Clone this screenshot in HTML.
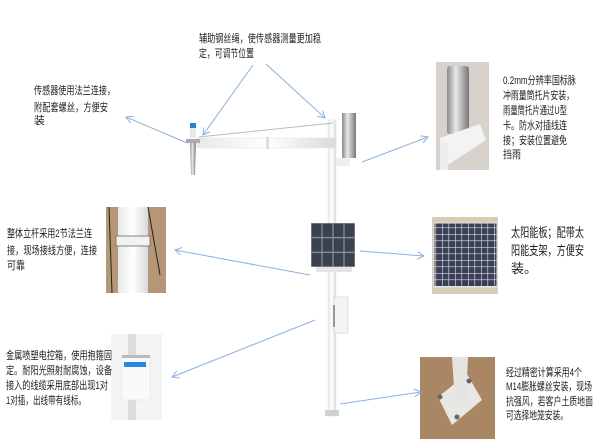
<!DOCTYPE html>
<html><head><meta charset="utf-8"><style>
html,body{margin:0;padding:0;background:#fff;width:600px;height:447px;overflow:hidden}
svg{display:block}
text{font-family:"Liberation Sans","Noto Sans CJK SC",sans-serif;fill:#1e1e1e;font-size:11px}
</style></head><body>
<svg width="600" height="447" viewBox="0 0 600 447" xmlns="http://www.w3.org/2000/svg">
<defs>
<marker id="a" markerWidth="8" markerHeight="8" refX="7" refY="4" orient="auto" markerUnits="userSpaceOnUse">
<path d="M0,0 L7,4 L0,8" fill="none" stroke="#8db2dc" stroke-width="1"/></marker>
<linearGradient id="pole" x1="0" x2="1"><stop offset="0" stop-color="#e6e8ea"/><stop offset=".5" stop-color="#fff"/><stop offset="1" stop-color="#d8dadc"/></linearGradient>
<linearGradient id="steel" x1="0" x2="1"><stop offset="0" stop-color="#8a8a8a"/><stop offset=".4" stop-color="#e8e8e8"/><stop offset="1" stop-color="#777"/></linearGradient>
<pattern id="cells" x="311" y="223" width="11" height="14.67" patternUnits="userSpaceOnUse"><rect width="11" height="14.67" fill="#8d949e"/><rect x=".6" y=".6" width="9.8" height="13.4" fill="#3a414c"/></pattern>
<pattern id="cells2" width="6.5" height="6.5" patternUnits="userSpaceOnUse"><rect width="6.5" height="6.5" fill="#dfe3ea"/><rect x=".6" y=".6" width="5.9" height="5.9" fill="#3a3f55"/></pattern>
</defs>

<rect x="328" y="120" width="8" height="296" fill="url(#pole)" stroke="#e0e2e4" stroke-width=".5"/>
<rect x="325" y="410" width="14" height="6" fill="#cfd2d4"/>
<rect x="197" y="138" width="139" height="10" fill="url(#pole)" stroke="#e2e4e6" stroke-width=".5"/>
<rect x="266" y="137" width="3" height="12" fill="#ddd"/>
<line x1="199" y1="137" x2="333" y2="123" stroke="#bbb" stroke-width="1"/>
<rect x="190" y="123" width="6" height="5" fill="#2a7fd0"/>
<rect x="190" y="128" width="6" height="10" fill="#e8e8e8"/>
<rect x="186" y="139" width="14" height="4" fill="#aaa"/>
<polygon points="190,143 196,143 195,175 191,175" fill="url(#steel)"/>
<rect x="342" y="113" width="14" height="45" fill="url(#steel)"/>
<rect x="336" y="158" width="14" height="8" fill="#eee"/>
<rect x="311" y="223" width="44" height="44" fill="url(#cells)"/>
<rect x="316" y="267" width="36" height="5" fill="#e5e5e5"/>
<rect x="334" y="297" width="14" height="36" fill="#f4f4f4" stroke="#ccc" stroke-width=".6"/>
<rect x="333" y="305" width="2" height="22" fill="#999"/>

<g>
<rect x="436" y="62" width="53" height="108" fill="#d7d2cc"/>
<rect x="447" y="66" width="22" height="68" rx="3" fill="url(#steel)"/>
<polygon points="440,138 480,124 486,140 440,170" fill="#f3f3f3"/>
<rect x="440" y="142" width="8" height="28" fill="#eee"/>
</g>
<g>
<rect x="106" y="207" width="60" height="86" fill="#b59777"/>
<rect x="118" y="207" width="30" height="86" fill="url(#pole)"/>
<rect x="116" y="236" width="34" height="10" fill="#f2f2f2" stroke="#666" stroke-width=".8"/>
<line x1="109" y1="207" x2="112" y2="293" stroke="#222" stroke-width="1"/>
<line x1="148" y1="207" x2="160" y2="275" stroke="#222" stroke-width="1"/>
</g>
<g>
<rect x="432" y="217" width="66" height="77" fill="#d9cbb5"/>
<rect x="434" y="223" width="63" height="64" fill="url(#cells2)" stroke="#e4e6ea" stroke-width="1"/>
</g>
<g>
<rect x="111" y="334" width="51" height="86" fill="#f3f4f6"/>
<rect x="128" y="334" width="8" height="86" fill="#dcdcdc"/>
<rect x="122" y="355" width="28" height="45" fill="#fafafa" stroke="#ddd" stroke-width=".5"/>
<rect x="122" y="355" width="28" height="3" fill="#bbb"/>
<rect x="124" y="362" width="22" height="5" fill="#2a86e0"/>
</g>
<g>
<rect x="420" y="357" width="75" height="82" fill="#a98664"/>
<polygon points="438,397 467,374 482,400 452,425" fill="#e9e7e3"/>
<polygon points="452,357 468,357 466,398 455,402" fill="#e6e4e0"/>
<circle cx="440" cy="397" r="2.5" fill="#666"/><circle cx="469" cy="381" r="2.5" fill="#666"/><circle cx="457" cy="417" r="2.5" fill="#666"/>
</g>

<g stroke="#8db2dc" stroke-width="1" fill="none">
<line x1="253" y1="65" x2="203" y2="135" marker-end="url(#a)"/>
<line x1="266" y1="64" x2="325" y2="118" marker-end="url(#a)"/>
<line x1="187" y1="143" x2="126" y2="117" marker-end="url(#a)"/>
<line x1="362" y1="162" x2="428" y2="137" marker-end="url(#a)"/>
<line x1="310" y1="275" x2="175" y2="250" marker-end="url(#a)"/>
<line x1="360" y1="251" x2="424" y2="256" marker-end="url(#a)"/>
<line x1="315" y1="320" x2="172" y2="377" marker-end="url(#a)"/>
<line x1="340" y1="404" x2="421" y2="392" marker-end="url(#a)"/>
</g>

<text x="199" y="42" textLength="122" lengthAdjust="spacingAndGlyphs">辅助钢丝绳，使传感器测量更加稳</text>
<text x="199" y="57" textLength="55" lengthAdjust="spacingAndGlyphs">定，可调节位置</text>
<text x="34" y="94" textLength="81" lengthAdjust="spacingAndGlyphs">传感器使用法兰连接，</text>
<text x="34" y="111" textLength="74" lengthAdjust="spacingAndGlyphs">附配套螺丝，方便安</text>
<text x="34" y="124">装</text>
<text x="503" y="84" textLength="73" lengthAdjust="spacingAndGlyphs">0.2mm分辨率国标脉</text>
<text x="503" y="99" textLength="71" lengthAdjust="spacingAndGlyphs">冲雨量筒托片安装，</text>
<text x="503" y="114" textLength="64" lengthAdjust="spacingAndGlyphs">雨量筒托片通过U型</text>
<text x="503" y="129" textLength="64" lengthAdjust="spacingAndGlyphs">卡。防水对插线连</text>
<text x="503" y="144" textLength="64" lengthAdjust="spacingAndGlyphs">接；安装位置避免</text>
<text x="503" y="158" textLength="18" lengthAdjust="spacingAndGlyphs">挡雨</text>
<text x="7" y="237" textLength="85" lengthAdjust="spacingAndGlyphs">整体立杆采用2节法兰连</text>
<text x="7" y="254" textLength="90" lengthAdjust="spacingAndGlyphs">接，现场接线方便，连接</text>
<text x="7" y="269" textLength="18" lengthAdjust="spacingAndGlyphs">可靠</text>
<text x="511" y="237" style="font-size:13px" textLength="73" lengthAdjust="spacingAndGlyphs">太阳能板；配带太</text>
<text x="511" y="255" style="font-size:13px" textLength="73" lengthAdjust="spacingAndGlyphs">阳能支架，方便安</text>
<text x="511" y="273" style="font-size:13px">装。</text>
<text x="6" y="359" textLength="106" lengthAdjust="spacingAndGlyphs">金属喷塑电控箱，使用抱箍固</text>
<text x="6" y="374" textLength="106" lengthAdjust="spacingAndGlyphs">定。耐阳光照射耐腐蚀，设备</text>
<text x="6" y="389" textLength="102" lengthAdjust="spacingAndGlyphs">接入的线缆采用底部出现1对</text>
<text x="6" y="404" textLength="80" lengthAdjust="spacingAndGlyphs">1对插，出线带有线标。</text>
<text x="506" y="376" textLength="76" lengthAdjust="spacingAndGlyphs">经过精密计算采用4个</text>
<text x="506" y="390" textLength="86" lengthAdjust="spacingAndGlyphs">M14膨胀螺丝安装，现场</text>
<text x="506" y="405" textLength="87" lengthAdjust="spacingAndGlyphs">抗强风，若客户土质地面</text>
<text x="506" y="419" textLength="62" lengthAdjust="spacingAndGlyphs">可选择地笼安装。</text>
</svg>
</body></html>
